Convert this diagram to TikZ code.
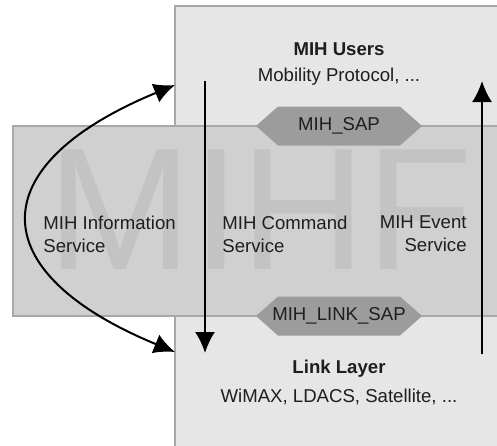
\documentclass[tikz,border=0pt]{standalone}
\usepackage{fontspec}
\setmainfont{Liberation Sans}
\usetikzlibrary{arrows.meta}

\definecolor{boxfill}{HTML}{E6E6E6}
\definecolor{bandfill}{HTML}{D0D0D0}
\definecolor{mihfcol}{HTML}{C3C3C3}
\definecolor{sapfill}{HTML}{9C9C9C}
\definecolor{boxline}{HTML}{A8A8A8}
\definecolor{textcol}{HTML}{1E1E1E}

\begin{document}
\begin{tikzpicture}[x=0.5pt, y=-0.5pt]
    % Define styles
    \tikzset{
        layer/.style={draw=boxline, fill=boxfill, line width=0.6pt},
        band/.style={draw=boxline, fill=bandfill, line width=0.6pt},
        txt/.style={inner sep=0pt, text=textcol, font=\fontsize{9.3}{11.5}\selectfont},
        title/.style={txt, font=\fontsize{9.3}{11.5}\selectfont\bfseries},
        flow/.style={line width=1pt, draw=black, -{Latex[length=10.5pt, width=10pt]}}
    }
    \useasboundingbox (0,0) rectangle (497,445);
    \clip (0,0) rectangle (497,445);

    % Layers
    \draw[layer] (175,6) rectangle (510,460);
    \draw[band] (13,126) rectangle (510,316);
    \node[text=mihfcol, inner sep=0pt, font=\fontsize{87}{87}\selectfont] (mihf) at (260,210) {MIHF};

    % Upper and lower layer texts
    \node[title] (users) at (339,49) {MIH Users};
    \node[txt] (mobility) at (339,77) {Mobility Protocol, ...};
    \node[title] (link) at (339,369) {Link Layer};
    \node[txt] (wimax) at (339,397) {WiMAX, LDACS, Satellite, ...};

    % Service access points
    \coordinate (sap) at (339,126);
    \coordinate (linksap) at (339,316);
    \foreach \s in {sap,linksap}
        \fill[sapfill] ([shift={(-83,0)}]\s) -- ([shift={(-61,-19.5)}]\s)
            -- ([shift={(61,-19.5)}]\s) -- ([shift={(83,0)}]\s)
            -- ([shift={(61,19.5)}]\s) -- ([shift={(-61,19.5)}]\s) -- cycle;
    \node[txt] (saptext) at (sap) {MIH\_SAP};
    \node[txt] (linksaptext) at (linksap) {MIH\_LINK\_SAP};

    % Services
    \node[txt, anchor=west, align=left] (info) at (43,234) {MIH Information\\Service};
    \node[txt, anchor=west, align=left] (cmd) at (222,234) {MIH Command\\Service};
    \node[txt, anchor=east, align=right] (event) at (467,234) {MIH Event\\Service};

    % Arrow ends
    \coordinate (infotop) at (175,85);
    \coordinate (infobot) at (175,352);
    \coordinate (cmdtop) at (205,81);
    \coordinate (cmdbot) at (205,353);
    \coordinate (eventbot) at (482,354);
    \coordinate (eventtop) at (482,81);

    % Arrows
    \draw[flow, {Latex[length=10.5pt, width=10pt]}-{Latex[length=10.5pt, width=10pt]}]
        (infotop) .. controls (-19,165) and (-19,272) .. (infobot);
    \draw[flow] (cmdtop) -- (cmdbot);
    \draw[flow] (eventbot) -- (eventtop);
\end{tikzpicture}
\end{document}
